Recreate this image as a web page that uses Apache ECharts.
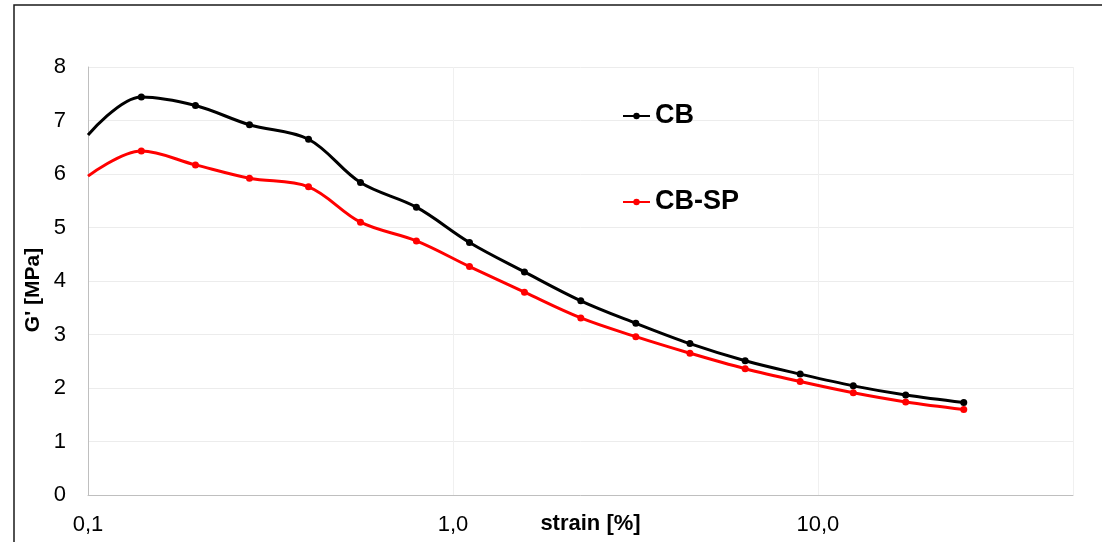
<!DOCTYPE html>
<html>
<head>
<meta charset="utf-8">
<script src="https://cdn.jsdelivr.net/npm/echarts@6/dist/echarts.min.js"></script>
<style>
  html, body { margin: 0; padding: 0; background: #fff; }
  #chart { width: 1102px; height: 542px; }
</style>
</head>
<body>
<div id="chart"></div>
<script>
// Strain amplitude sweep, storage modulus G'
const strain = [0.1, 0.14, 0.197, 0.277, 0.402, 0.558, 0.794, 1.11, 1.57, 2.24, 3.17, 4.46, 6.32, 8.94, 12.5, 17.4, 25.1];
const gCB    = [6.73, 7.44, 7.28, 6.92, 6.65, 5.84, 5.38, 4.72, 4.17, 3.63, 3.21, 2.83, 2.51, 2.26, 2.04, 1.87, 1.73];
const gCBSP  = [5.96, 6.43, 6.17, 5.92, 5.76, 5.10, 4.75, 4.27, 3.79, 3.31, 2.96, 2.65, 2.36, 2.12, 1.91, 1.74, 1.60];
const seriesNames = ['CB', 'CB-SP'];
const seriesColors = ['#000000', '#ff0000'];

const tickFont = 'Liberation Sans, Arial, sans-serif';

function toPoints(ys) {
  // first sample sits on the left edge, drawn without a marker
  return strain.map((x, i) => i === 0 ? { value: [x, ys[i]], symbolSize: 0 } : [x, ys[i]]);
}

const chart = echarts.init(document.getElementById('chart'), null, { renderer: 'canvas' });
chart.setOption({
  animation: false,
  backgroundColor: '#ffffff',
  graphic: [{
    type: 'rect',
    shape: { x: 14, y: 5, width: 1200, height: 700 },
    style: { fill: 'none', stroke: '#1a1a1a', lineWidth: 1.5 },
    silent: true
  }],
  grid: { left: 88, right: 29, top: 67, bottom: 47, containLabel: false, outerBoundsMode: 'none' },
  legend: {
    orient: 'vertical',
    left: 617,
    top: 96,
    itemGap: 56,
    itemWidth: 27,
    itemHeight: 8,
    textStyle: { fontSize: 27, fontWeight: 'bold', color: '#000', fontFamily: tickFont, lineHeight: 30 },
    data: seriesNames
  },
  xAxis: {
    type: 'log',
    logBase: 10,
    min: 0.1,
    max: 50,
    name: 'strain [%]',
    nameLocation: 'middle',
    nameGap: 18,
    nameMoveOverlap: false,
    nameTextStyle: { fontSize: 22, fontWeight: 'bold', color: '#000', fontFamily: tickFont, padding: [0, 0, 0, 20], verticalAlign: 'top' },
    axisLine: { show: true, lineStyle: { color: '#bfbfbf', width: 1 } },
    axisTick: { show: false },
    axisLabel: {
      margin: 19,
      fontSize: 22,
      color: '#000',
      fontFamily: tickFont,
      showMaxLabel: false,
      formatter: v => Number(v).toFixed(1).replace('.', ',')
    },
    splitLine: { show: true, lineStyle: { color: '#f0f0f0', width: 1 } }
  },
  yAxis: {
    type: 'value',
    min: 0,
    max: 8,
    interval: 1,
    name: "G' [MPa]",
    nameLocation: 'middle',
    nameRotate: 90,
    nameGap: 44,
    nameMoveOverlap: false,
    nameTextStyle: { fontSize: 21, fontWeight: 'bold', color: '#000', fontFamily: tickFont, padding: [0, 18, 0, 0] },
    axisLine: { show: true, lineStyle: { color: '#bfbfbf', width: 1 } },
    axisTick: { show: false },
    axisLabel: { margin: 22, fontSize: 22, color: '#000', fontFamily: tickFont },
    splitLine: { show: true, lineStyle: { color: '#ececec', width: 1 } }
  },
  series: seriesNames.map((name, k) => ({
    name: name,
    type: 'line',
    data: toPoints(k === 0 ? gCB : gCBSP),
    smooth: 0.35,
    symbol: 'circle',
    symbolSize: 7,
    color: seriesColors[k],
    lineStyle: { color: seriesColors[k], width: 3 },
    itemStyle: { color: seriesColors[k] },
    z: k === 0 ? 3 : 2
  }))
});
</script>
</body>
</html>
